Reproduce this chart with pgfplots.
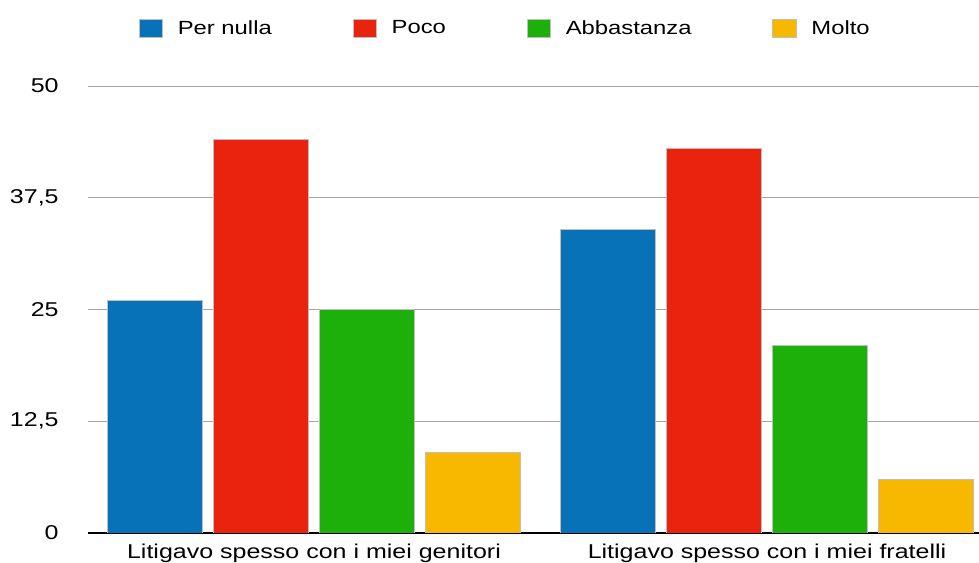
\documentclass[border=0pt]{standalone}
\usepackage{fontspec}
\setmainfont{Liberation Sans}[FakeStretch=1.25]
\usepackage{pgfplots}
\pgfplotsset{compat=1.18}
\definecolor{cblue}{HTML}{0772B8}
\definecolor{cred}{HTML}{EA230F}
\definecolor{cgreen}{HTML}{1DAF0A}
\definecolor{cyellow}{HTML}{F8B800}
\begin{document}
\begin{tikzpicture}
\path[use as bounding box] (-66pt,-22.5pt) rectangle (668.25pt,399.75pt);
\begin{axis}[
  at={(0,0)}, anchor=south west,
  scale only axis, width=668.25pt, height=335.25pt,
  xmin=-0.4989, xmax=1.468, ymin=0, ymax=50,
  enlargelimits=false,
  ybar, bar width=0.211,
  separate axis lines,
  axis x line*=bottom, axis y line*=left,
  x axis line style={-, black, line width=1.6pt},
  y axis line style={draw=none},
  major tick length=0pt,
  ymajorgrids, major grid style={black!35, line width=0.7pt},
  ytick={0,12.5,25,37.5,50},
  yticklabels={0,{12,5},25,{37,5},50},
  xtick={0,1},
  xticklabels={Litigavo spesso con i miei genitori, Litigavo spesso con i miei fratelli},
  tick label style={font=\fontsize{15}{17}\selectfont},
  yticklabel style={xshift=-18.5pt},
  xticklabel style={yshift=-4.5pt},
  legend columns=4,
  legend style={at={(0.4686,1.129)}, anchor=center, draw=none, fill=none,
    font=\fontsize{14.3}{16}\selectfont,
    /tikz/every even column/.append style={column sep=58.5pt},
    /tikz/every odd column/.append style={column sep=9.25pt}},
  legend image code/.code={\fill[#1] (0pt,-6.4pt) rectangle (17.6pt,6.4pt);},
  every axis plot/.append style={draw=black!25, line width=0.5pt},
]
\addplot[fill=cblue, bar shift=-0.351] coordinates {(0,26) (1,34)};
\addplot[fill=cred, bar shift=-0.117] coordinates {(0,44) (1,43)};
\addplot[fill=cgreen, bar shift=0.117] coordinates {(0,25) (1,21)};
\addplot[fill=cyellow, bar shift=0.351] coordinates {(0,9) (1,6)};
\legend{Per nulla, Poco, Abbastanza, Molto}
\end{axis}
\end{tikzpicture}
\end{document}
